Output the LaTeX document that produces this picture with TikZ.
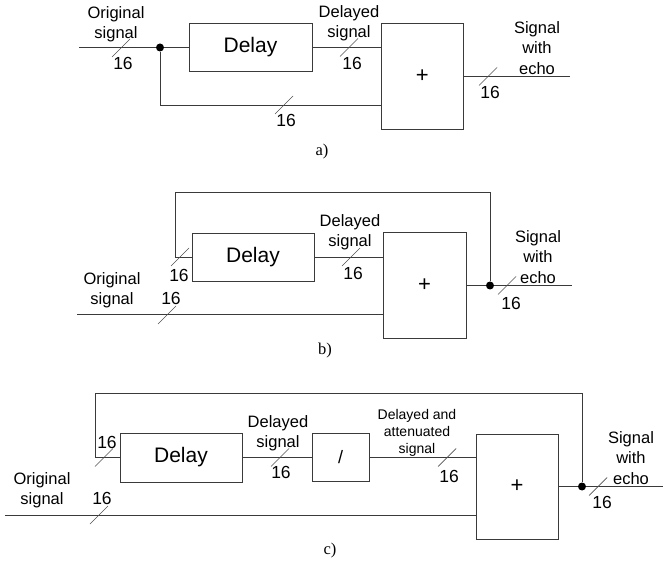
\documentclass[tikz,border=0pt]{standalone}
\usepackage{fontspec}
\setmainfont{Liberation Sans}
\newfontfamily\capfont{Liberation Serif}
\usetikzlibrary{positioning}
\definecolor{wire}{HTML}{3A3A3A}
\definecolor{tick}{HTML}{505050}

\begin{document}
\begin{tikzpicture}[x=1pt,y=-1pt,
 blk/.style={draw=wire,line width=0.9pt,inner sep=0pt,font=\fontsize{21}{24}\selectfont},
 sum/.style={blk,font=\fontsize{22}{24}\selectfont},
 w/.style={wire,line width=0.9pt},
 lbl/.style={align=center,inner sep=0pt,font=\fontsize{16.5}{20.5}\selectfont},
 sml/.style={align=center,inner sep=0pt,font=\fontsize{14}{17}\selectfont},
 num/.style={inner sep=0pt,font=\fontsize{17.5}{19}\selectfont},
 dot/.style={circle,fill=black,inner sep=0pt,minimum size=8pt},
 captext/.style={inner sep=0pt,font=\capfont\fontsize{16.5}{18}\selectfont},
 busw/.pic={\draw[tick,line width=0.7pt] (-9,9)--(9,-9);}]
\useasboundingbox (0,0) rectangle (667,564);
% a)
\coordinate (ina) at (79,47.5);
\node[dot] (ja) at (160,47.5) {};
\node[blk,minimum width=123pt,minimum height=48pt] (da) at (250.5,47.5) {Delay};
\node[sum,minimum width=81.5pt,minimum height=106pt] (pa) at (422.25,76.5) {+};
\coordinate (oa) at (570,76.5);
\coordinate (la) at (160,105);
\draw[w] (ina) -- (ja) -- (da.west);
\draw[w] (da.east) -- (pa.west |- da.east);
\draw[w] (ja) -- (la) -- (pa.west |- la);
\draw[w] (pa.east) -- (oa);
\pic at (121,48) {busw};
\pic at (349,47.5) {busw};
\pic at (284,105) {busw};
\pic at (488,76.5) {busw};
\node[lbl] (ta1) at (116,24) {Original\\signal};
\node[lbl] (ta2) at (349,23) {Delayed\\signal};
\node[lbl] (ta3) at (537,48) {Signal\\with\\echo};
\node[num] (na1) at (123,63) {16};
\node[num] (na2) at (352,63) {16};
\node[num] (na3) at (286,120) {16};
\node[num] (na4) at (490,92) {16};
\node[captext] (capa) at (322,152) {a)};
% b)
\coordinate (inb) at (77,314);
\node[blk,minimum width=122pt,minimum height=48pt] (db) at (253,257) {Delay};
\node[sum,minimum width=83pt,minimum height=106pt] (pb) at (424.5,285.5) {+};
\node[dot] (jb) at (490,285.5) {};
\coordinate (ob) at (572,285.5);
\coordinate (fb) at (175,192);
\draw[w] (inb) -- (pb.west |- inb);
\draw[w] (db.east) -- (pb.west |- db.east);
\draw[w] (pb.east) -- (jb) -- (ob);
\draw[w] (jb) |- (fb) |- (db.west);
\pic at (180,257) {busw};
\pic at (167,315) {busw};
\pic at (351,257) {busw};
\pic at (507,285.5) {busw};
\node[lbl] (tb1) at (112,290) {Original\\signal};
\node[lbl] (tb2) at (350,232) {Delayed\\signal};
\node[lbl] (tb3) at (538,257) {Signal\\with\\echo};
\node[num] (nb1) at (179,275) {16};
\node[num] (nb2) at (171,298) {16};
\node[num] (nb3) at (353,273) {16};
\node[num] (nb4) at (511,303) {16};
\node[captext] (capb) at (325,351) {b)};
% c)
\coordinate (inc) at (5,515);
\node[blk,minimum width=122pt,minimum height=49pt] (dc) at (181,457.5) {Delay};
\node[blk,minimum width=57pt,minimum height=48pt,font=\fontsize{18}{20}\selectfont] (ac) at (340.5,457.5) {/};
\node[sum,minimum width=82pt,minimum height=105pt] (pc) at (517,486.5) {+};
\node[dot] (jc) at (582,486.5) {};
\coordinate (oc) at (663,486.5);
\coordinate (fc) at (95,393);
\draw[w] (inc) -- (pc.west |- inc);
\draw[w] (dc.east) -- (ac.west);
\draw[w] (ac.east) -- (pc.west |- ac.east);
\draw[w] (pc.east) -- (jc) -- (oc);
\draw[w] (jc) |- (fc) |- (dc.west);
\pic at (104,457.5) {busw};
\pic at (99,515) {busw};
\pic at (280,457.5) {busw};
\pic at (447,457.5) {busw};
\pic at (598,486.5) {busw};
\node[lbl] (tc1) at (42,490) {Original\\signal};
\node[lbl] (tc2) at (278,433) {Delayed\\signal};
\node[sml] (tc3) at (417,433) {Delayed and\\attenuated\\signal};
\node[lbl] (tc4) at (631,458) {Signal\\with\\echo};
\node[num] (nc1) at (107,442) {16};
\node[num] (nc2) at (102,498) {16};
\node[num] (nc3) at (281,472) {16};
\node[num] (nc4) at (449,476) {16};
\node[num] (nc5) at (602,502) {16};
\node[captext] (capc) at (330,551) {c)};
\end{tikzpicture}
\end{document}
